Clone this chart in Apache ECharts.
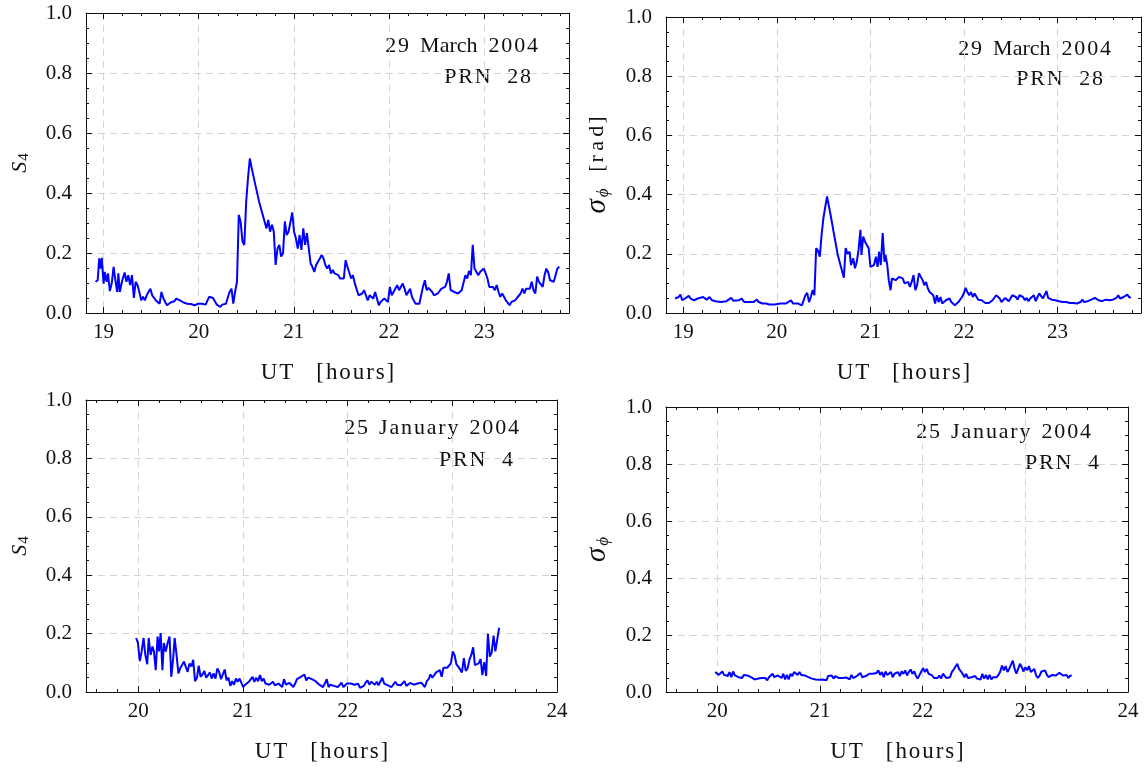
<!DOCTYPE html>
<html>
<head>
<meta charset="utf-8">
<script src="https://cdn.jsdelivr.net/npm/echarts@6/dist/echarts.min.js"></script>
<style>
  html, body {margin: 0; padding: 0; background: #fff;}
  #chart {width: 1145px; height: 769px;}
</style>
</head>
<body>
<div id="chart"></div>
<script>
// [UT hours, value]
// 29 March 2004, PRN 28 : S4
const marS4 = [[18.915,0.104],[18.938,0.109],[18.954,0.182],[18.969,0.148],[18.981,0.184],[18.992,0.132],[19.000,0.098],[19.012,0.137],[19.031,0.104],[19.046,0.132],[19.066,0.073],[19.085,0.098],[19.105,0.154],[19.124,0.109],[19.143,0.070],[19.155,0.132],[19.170,0.070],[19.194,0.106],[19.221,0.135],[19.240,0.104],[19.259,0.126],[19.279,0.093],[19.298,0.126],[19.318,0.050],[19.337,0.104],[19.356,0.093],[19.376,0.070],[19.395,0.042],[19.414,0.054],[19.434,0.042],[19.453,0.059],[19.472,0.070],[19.492,0.081],[19.511,0.059],[19.530,0.054],[19.550,0.042],[19.569,0.037],[19.589,0.031],[19.608,0.070],[19.627,0.050],[19.647,0.037],[19.666,0.026],[19.685,0.031],[19.705,0.035],[19.724,0.033],[19.743,0.039],[19.763,0.048],[19.782,0.054],[19.802,0.042],[19.821,0.037],[19.840,0.035],[19.860,0.031],[19.879,0.031],[19.898,0.026],[19.918,0.030],[19.937,0.028],[19.956,0.026],[19.976,0.023],[19.995,0.031],[20.015,0.028],[20.034,0.031],[20.053,0.030],[20.073,0.028],[20.092,0.042],[20.111,0.054],[20.131,0.059],[20.150,0.050],[20.169,0.039],[20.189,0.028],[20.208,0.023],[20.228,0.020],[20.247,0.028],[20.266,0.023],[20.286,0.031],[20.305,0.031],[20.324,0.070],[20.344,0.081],[20.363,0.031],[20.382,0.070],[20.402,0.104],[20.421,0.327],[20.440,0.305],[20.460,0.238],[20.479,0.227],[20.499,0.372],[20.518,0.450],[20.537,0.515],[20.557,0.483],[20.595,0.427],[20.634,0.372],[20.673,0.327],[20.712,0.282],[20.731,0.310],[20.750,0.271],[20.770,0.294],[20.789,0.271],[20.808,0.160],[20.828,0.215],[20.847,0.227],[20.866,0.188],[20.886,0.199],[20.905,0.305],[20.925,0.260],[20.944,0.271],[20.963,0.271],[20.983,0.335],[21.002,0.271],[21.021,0.249],[21.041,0.215],[21.060,0.260],[21.079,0.210],[21.099,0.282],[21.118,0.227],[21.137,0.266],[21.157,0.266],[21.176,0.165],[21.195,0.154],[21.215,0.137],[21.234,0.160],[21.254,0.160],[21.273,0.182],[21.292,0.193],[21.312,0.182],[21.331,0.160],[21.350,0.148],[21.370,0.160],[21.389,0.132],[21.409,0.143],[21.428,0.132],[21.447,0.137],[21.467,0.126],[21.486,0.115],[21.505,0.109],[21.525,0.115],[21.544,0.176],[21.563,0.154],[21.583,0.160],[21.602,0.115],[21.621,0.126],[21.641,0.098],[21.660,0.093],[21.680,0.059],[21.699,0.059],[21.718,0.065],[21.738,0.076],[21.757,0.070],[21.776,0.042],[21.796,0.059],[21.815,0.065],[21.834,0.048],[21.854,0.070],[21.873,0.076],[21.893,0.026],[21.912,0.037],[21.931,0.042],[21.951,0.048],[21.970,0.054],[21.989,0.037],[22.009,0.087],[22.028,0.059],[22.048,0.070],[22.067,0.065],[22.086,0.093],[22.106,0.076],[22.125,0.070],[22.144,0.098],[22.164,0.081],[22.183,0.059],[22.202,0.054],[22.222,0.081],[22.241,0.054],[22.260,0.042],[22.280,0.031],[22.299,0.028],[22.319,0.031],[22.338,0.059],[22.357,0.087],[22.377,0.109],[22.396,0.076],[22.415,0.084],[22.435,0.087],[22.454,0.070],[22.473,0.059],[22.493,0.054],[22.512,0.065],[22.531,0.070],[22.551,0.081],[22.570,0.081],[22.590,0.087],[22.609,0.104],[22.628,0.132],[22.648,0.076],[22.667,0.081],[22.686,0.070],[22.706,0.070],[22.725,0.065],[22.744,0.065],[22.764,0.076],[22.783,0.070],[22.803,0.126],[22.822,0.115],[22.841,0.140],[22.861,0.126],[22.880,0.227],[22.899,0.148],[22.919,0.143],[22.938,0.126],[22.957,0.137],[22.977,0.140],[22.996,0.148],[23.016,0.132],[23.035,0.115],[23.054,0.087],[23.074,0.081],[23.093,0.087],[23.112,0.076],[23.132,0.093],[23.151,0.070],[23.170,0.054],[23.190,0.065],[23.209,0.054],[23.228,0.042],[23.248,0.042],[23.267,0.026],[23.287,0.037],[23.306,0.042],[23.325,0.042],[23.345,0.050],[23.364,0.054],[23.383,0.065],[23.403,0.081],[23.422,0.065],[23.441,0.081],[23.461,0.081],[23.480,0.081],[23.500,0.104],[23.519,0.076],[23.538,0.065],[23.557,0.121],[23.577,0.104],[23.596,0.098],[23.616,0.087],[23.635,0.126],[23.654,0.148],[23.674,0.135],[23.693,0.109],[23.712,0.104],[23.732,0.104],[23.751,0.104],[23.770,0.148],[23.790,0.154]]

// 29 March 2004, PRN 28 : sigma phi [rad]
const marSigma = [[18.912,0.049],[18.931,0.043],[18.950,0.054],[18.969,0.062],[18.988,0.043],[19.019,0.049],[19.058,0.058],[19.077,0.049],[19.115,0.043],[19.154,0.049],[19.211,0.054],[19.250,0.045],[19.280,0.054],[19.307,0.043],[19.345,0.040],[19.403,0.037],[19.461,0.040],[19.511,0.051],[19.537,0.041],[19.595,0.043],[19.622,0.049],[19.653,0.037],[19.710,0.037],[19.749,0.037],[19.787,0.045],[19.806,0.037],[19.845,0.032],[19.883,0.032],[19.921,0.029],[19.979,0.029],[20.036,0.032],[20.094,0.032],[20.152,0.043],[20.171,0.032],[20.228,0.032],[20.267,0.026],[20.286,0.032],[20.305,0.060],[20.324,0.068],[20.344,0.037],[20.363,0.054],[20.382,0.077],[20.401,0.060],[20.420,0.219],[20.440,0.210],[20.459,0.190],[20.478,0.264],[20.497,0.320],[20.536,0.394],[20.574,0.332],[20.612,0.264],[20.651,0.196],[20.689,0.151],[20.716,0.119],[20.735,0.219],[20.754,0.200],[20.777,0.207],[20.793,0.162],[20.816,0.185],[20.835,0.151],[20.854,0.173],[20.873,0.213],[20.893,0.281],[20.904,0.196],[20.923,0.258],[20.942,0.241],[20.962,0.247],[20.981,0.219],[21.000,0.156],[21.019,0.151],[21.038,0.162],[21.058,0.190],[21.077,0.156],[21.092,0.207],[21.111,0.162],[21.131,0.270],[21.150,0.173],[21.161,0.196],[21.180,0.162],[21.196,0.111],[21.215,0.077],[21.230,0.117],[21.250,0.111],[21.269,0.111],[21.288,0.105],[21.307,0.122],[21.326,0.126],[21.345,0.117],[21.365,0.100],[21.384,0.096],[21.403,0.105],[21.422,0.088],[21.441,0.105],[21.461,0.128],[21.480,0.077],[21.499,0.094],[21.518,0.134],[21.537,0.139],[21.557,0.111],[21.576,0.094],[21.595,0.105],[21.614,0.083],[21.633,0.071],[21.653,0.066],[21.672,0.060],[21.691,0.032],[21.710,0.060],[21.729,0.037],[21.749,0.054],[21.768,0.032],[21.787,0.026],[21.806,0.043],[21.825,0.045],[21.845,0.049],[21.864,0.037],[21.883,0.032],[21.902,0.026],[21.921,0.032],[21.940,0.037],[21.960,0.043],[21.979,0.054],[21.998,0.066],[22.017,0.085],[22.036,0.071],[22.056,0.060],[22.075,0.071],[22.094,0.054],[22.113,0.066],[22.132,0.071],[22.152,0.045],[22.171,0.040],[22.190,0.043],[22.209,0.037],[22.228,0.034],[22.248,0.037],[22.267,0.034],[22.286,0.037],[22.305,0.043],[22.324,0.049],[22.344,0.060],[22.363,0.066],[22.382,0.049],[22.401,0.037],[22.420,0.043],[22.440,0.051],[22.459,0.049],[22.478,0.040],[22.497,0.049],[22.516,0.060],[22.536,0.066],[22.555,0.054],[22.574,0.045],[22.593,0.060],[22.612,0.062],[22.631,0.054],[22.651,0.043],[22.670,0.051],[22.689,0.040],[22.708,0.049],[22.727,0.051],[22.747,0.060],[22.766,0.040],[22.785,0.045],[22.804,0.066],[22.823,0.058],[22.843,0.049],[22.862,0.054],[22.881,0.074],[22.900,0.051],[22.919,0.049],[22.939,0.045],[22.958,0.045],[22.977,0.043],[22.996,0.040],[23.015,0.040],[23.054,0.037],[23.092,0.037],[23.111,0.043],[23.131,0.034],[23.169,0.034],[23.207,0.032],[23.246,0.037],[23.265,0.045],[23.284,0.037],[23.322,0.040],[23.361,0.045],[23.399,0.051],[23.418,0.049],[23.438,0.043],[23.476,0.040],[23.514,0.045],[23.534,0.049],[23.553,0.043],[23.591,0.045],[23.630,0.051],[23.649,0.060],[23.668,0.049],[23.707,0.054],[23.726,0.060],[23.745,0.062],[23.764,0.054],[23.783,0.051]]

// 25 January 2004, PRN 4 : S4
const janS4 = [[19.979,0.185],[19.996,0.168],[20.014,0.106],[20.032,0.139],[20.050,0.185],[20.067,0.127],[20.085,0.095],[20.099,0.185],[20.117,0.127],[20.135,0.156],[20.149,0.139],[20.166,0.075],[20.184,0.190],[20.198,0.139],[20.213,0.202],[20.230,0.075],[20.244,0.168],[20.262,0.139],[20.280,0.168],[20.298,0.190],[20.315,0.052],[20.333,0.116],[20.347,0.185],[20.365,0.127],[20.383,0.064],[20.400,0.081],[20.418,0.087],[20.436,0.104],[20.453,0.106],[20.471,0.069],[20.489,0.098],[20.507,0.087],[20.524,0.110],[20.542,0.037],[20.560,0.049],[20.577,0.090],[20.595,0.052],[20.613,0.060],[20.631,0.072],[20.648,0.049],[20.666,0.058],[20.684,0.067],[20.701,0.046],[20.719,0.064],[20.737,0.046],[20.755,0.081],[20.772,0.069],[20.790,0.044],[20.808,0.040],[20.825,0.077],[20.843,0.040],[20.861,0.049],[20.879,0.021],[20.896,0.037],[20.914,0.025],[20.932,0.046],[20.949,0.035],[20.967,0.046],[20.985,0.049],[21.002,0.017],[21.020,0.025],[21.038,0.029],[21.056,0.035],[21.073,0.040],[21.091,0.052],[21.109,0.035],[21.126,0.049],[21.144,0.037],[21.162,0.058],[21.180,0.037],[21.197,0.046],[21.215,0.029],[21.233,0.032],[21.250,0.025],[21.268,0.025],[21.286,0.035],[21.304,0.023],[21.321,0.025],[21.339,0.029],[21.357,0.032],[21.374,0.017],[21.392,0.044],[21.410,0.025],[21.428,0.021],[21.445,0.031],[21.463,0.025],[21.481,0.017],[21.498,0.029],[21.516,0.044],[21.534,0.049],[21.552,0.052],[21.569,0.046],[21.587,0.060],[21.605,0.040],[21.622,0.049],[21.640,0.044],[21.658,0.044],[21.676,0.040],[21.693,0.037],[21.711,0.031],[21.729,0.025],[21.746,0.029],[21.764,0.017],[21.782,0.029],[21.800,0.044],[21.817,0.017],[21.835,0.025],[21.853,0.023],[21.870,0.021],[21.888,0.025],[21.906,0.017],[21.923,0.014],[21.941,0.032],[21.959,0.017],[21.977,0.023],[21.994,0.029],[22.012,0.025],[22.030,0.029],[22.047,0.028],[22.065,0.025],[22.083,0.028],[22.101,0.028],[22.118,0.014],[22.136,0.017],[22.154,0.021],[22.171,0.032],[22.189,0.040],[22.207,0.025],[22.225,0.035],[22.242,0.029],[22.260,0.025],[22.278,0.035],[22.295,0.023],[22.313,0.025],[22.331,0.049],[22.349,0.029],[22.366,0.025],[22.384,0.023],[22.402,0.025],[22.419,0.017],[22.437,0.023],[22.455,0.035],[22.473,0.025],[22.490,0.029],[22.508,0.023],[22.526,0.023],[22.543,0.037],[22.561,0.021],[22.579,0.025],[22.597,0.031],[22.614,0.029],[22.632,0.025],[22.650,0.031],[22.667,0.029],[22.685,0.029],[22.703,0.032],[22.721,0.029],[22.738,0.017],[22.756,0.037],[22.774,0.044],[22.791,0.060],[22.809,0.049],[22.827,0.058],[22.845,0.067],[22.862,0.064],[22.880,0.075],[22.898,0.052],[22.915,0.083],[22.933,0.081],[22.951,0.083],[22.969,0.087],[22.986,0.098],[23.004,0.139],[23.022,0.125],[23.039,0.095],[23.057,0.087],[23.075,0.081],[23.092,0.067],[23.110,0.116],[23.128,0.072],[23.146,0.081],[23.163,0.110],[23.181,0.127],[23.199,0.153],[23.216,0.092],[23.234,0.095],[23.252,0.098],[23.270,0.113],[23.287,0.058],[23.305,0.102],[23.323,0.055],[23.340,0.199],[23.358,0.121],[23.376,0.136],[23.394,0.193],[23.411,0.139],[23.429,0.139],[23.447,0.220]]

// 25 January 2004, PRN 4 : sigma phi
const janSigma = [[19.979,0.070],[19.997,0.067],[20.014,0.060],[20.031,0.056],[20.049,0.072],[20.066,0.060],[20.084,0.064],[20.101,0.056],[20.119,0.070],[20.136,0.052],[20.154,0.072],[20.171,0.058],[20.189,0.060],[20.206,0.052],[20.224,0.058],[20.241,0.049],[20.258,0.060],[20.276,0.056],[20.293,0.058],[20.311,0.060],[20.328,0.052],[20.346,0.047],[20.363,0.044],[20.381,0.049],[20.398,0.047],[20.416,0.051],[20.433,0.049],[20.451,0.044],[20.468,0.049],[20.486,0.041],[20.503,0.052],[20.520,0.058],[20.538,0.064],[20.555,0.052],[20.573,0.049],[20.590,0.058],[20.608,0.052],[20.625,0.049],[20.643,0.064],[20.660,0.044],[20.678,0.060],[20.695,0.044],[20.713,0.064],[20.730,0.056],[20.747,0.070],[20.765,0.064],[20.782,0.060],[20.800,0.070],[20.817,0.060],[20.835,0.056],[20.852,0.058],[20.870,0.052],[20.887,0.052],[20.905,0.049],[20.922,0.047],[20.940,0.049],[20.957,0.044],[20.975,0.044],[20.992,0.043],[21.009,0.041],[21.027,0.044],[21.044,0.049],[21.062,0.041],[21.079,0.056],[21.097,0.049],[21.114,0.058],[21.132,0.047],[21.149,0.056],[21.167,0.052],[21.184,0.049],[21.202,0.056],[21.219,0.049],[21.236,0.056],[21.254,0.051],[21.271,0.052],[21.289,0.044],[21.306,0.060],[21.324,0.049],[21.341,0.049],[21.359,0.056],[21.376,0.049],[21.394,0.067],[21.411,0.052],[21.429,0.049],[21.446,0.056],[21.463,0.056],[21.481,0.064],[21.498,0.058],[21.516,0.064],[21.533,0.070],[21.551,0.067],[21.568,0.076],[21.586,0.060],[21.603,0.070],[21.621,0.052],[21.638,0.072],[21.656,0.060],[21.673,0.056],[21.691,0.070],[21.708,0.052],[21.725,0.064],[21.743,0.060],[21.760,0.070],[21.778,0.056],[21.795,0.072],[21.813,0.064],[21.830,0.076],[21.848,0.058],[21.865,0.070],[21.883,0.079],[21.900,0.064],[21.918,0.072],[21.935,0.056],[21.952,0.047],[21.970,0.060],[21.987,0.072],[22.005,0.084],[22.022,0.070],[22.040,0.081],[22.057,0.064],[22.075,0.070],[22.092,0.058],[22.110,0.049],[22.127,0.047],[22.145,0.049],[22.162,0.058],[22.180,0.047],[22.197,0.064],[22.214,0.060],[22.232,0.049],[22.249,0.056],[22.267,0.052],[22.284,0.070],[22.302,0.079],[22.319,0.072],[22.337,0.099],[22.354,0.081],[22.372,0.079],[22.389,0.064],[22.407,0.052],[22.424,0.064],[22.441,0.049],[22.459,0.047],[22.476,0.052],[22.494,0.049],[22.511,0.056],[22.529,0.047],[22.546,0.047],[22.564,0.044],[22.581,0.064],[22.599,0.047],[22.616,0.060],[22.634,0.044],[22.651,0.060],[22.669,0.044],[22.686,0.052],[22.703,0.047],[22.721,0.052],[22.738,0.060],[22.756,0.072],[22.773,0.093],[22.791,0.076],[22.808,0.091],[22.826,0.070],[22.843,0.081],[22.861,0.076],[22.878,0.110],[22.896,0.081],[22.913,0.064],[22.930,0.081],[22.948,0.099],[22.965,0.087],[22.983,0.072],[23.000,0.087],[23.018,0.076],[23.035,0.091],[23.053,0.070],[23.070,0.072],[23.088,0.081],[23.105,0.058],[23.123,0.049],[23.140,0.058],[23.157,0.072],[23.175,0.079],[23.192,0.076],[23.210,0.060],[23.227,0.052],[23.245,0.058],[23.262,0.060],[23.280,0.056],[23.297,0.058],[23.315,0.060],[23.332,0.067],[23.350,0.064],[23.367,0.058],[23.385,0.052],[23.402,0.060],[23.420,0.049],[23.437,0.058],[23.451,0.056]]

const marHours = [19, 20, 21, 22, 23]
const janHours = [20, 21, 22, 23, 24]

const FONT = '"Liberation Serif", "DejaVu Serif", serif'
const INK = '#111'
const BLUE = '#0000ff'
const frameLine = {color: INK, width: 1}
const gridDash = {color: '#d4d4d4', width: 1, type: [7, 5]}
// the original sets its words loosely, hair/thin spaces mimic that
const HS = '\u200A'
const TS = '\u2009'
const loose = s => s.split('').join(HS)

function steps(a, b, d) {
  const out = []
  for (let v = a; v <= b + 1e-9; v += d) out.push(+v.toFixed(3))
  return out
}

const xName = `${loose('UT')}    [${HS}${loose('hours')}${HS}]`
const marNotes = [`${loose('29')}  March  ${loose('2004')}`, `${loose('PRN')}   ${loose('28')}`]
const janNotes = [`${loose('25')}  ${loose('January')}  ${loose('2004')}`, `${loose('PRN')}   4`]
const nameRich = {
  s: {fontFamily: FONT, fontStyle: 'italic', fontSize: 22, color: INK},
  g: {fontFamily: FONT, fontStyle: 'italic', fontSize: 29, color: INK},
  sub: {fontFamily: FONT, fontSize: 15, color: INK, verticalAlign: 'bottom', padding: [9, 0, 0, 1]},
  phi: {fontFamily: FONT, fontStyle: 'italic', fontSize: 17, color: INK, verticalAlign: 'bottom', padding: [10, 0, 0, 2]},
  t: {fontFamily: FONT, fontSize: 22, color: INK},
}

const panels = [
  {grid: {left: 86, top: 13, width: 483, height: 300}, min: 18.815, max: 23.892,
    majors: marHours, minors: steps(19, 23.8, 0.2), data: marS4,
    yName: '{s|S}{sub|4}', notes: marNotes, noteX: [538, 531], noteY: [46, 77]},
  {grid: {left: 666, top: 17, width: 475, height: 296}, min: 18.815, max: 23.892,
    majors: marHours, minors: steps(19, 23.8, 0.2), data: marSigma,
    yName: `{g|σ}{phi|ϕ}     {t|[${HS}r${TS}a${TS}d${HS}]}`, notes: marNotes, noteX: [1111, 1103], noteY: [49, 79]},
  {grid: {left: 86, top: 400, width: 471, height: 292}, min: 19.5, max: 24,
    majors: janHours, minors: steps(19.6, 24, 0.2), data: janS4,
    yName: '{s|S}{sub|4}', notes: janNotes, noteX: [519, 513], noteY: [428, 460]},
  {grid: {left: 666, top: 407, width: 462, height: 285}, min: 19.5, max: 24,
    majors: janHours, minors: steps(19.6, 24, 0.2), data: janSigma,
    yName: '{g|σ}{phi|ϕ}', notes: janNotes, noteX: [1091, 1099], noteY: [432, 463]},
]

const grids = [], xAxes = [], yAxes = [], series = [], graphic = []

panels.forEach((p, gi) => {
  grids.push({...p.grid, outerBoundsMode: 'none'})

  const xBase = {gridIndex: gi, type: 'value', min: p.min, max: p.max,
    axisLine: {show: true, onZero: false, lineStyle: frameLine},
    axisLabel: {show: false}, splitLine: {show: false}}
  const mainX = xAxes.length
  xAxes.push({...xBase, position: 'bottom',
    name: xName, nameLocation: 'middle', nameGap: 48,
    nameTextStyle: {fontFamily: FONT, fontSize: 23, color: INK},
    axisTick: {show: true, inside: true, length: 6, customValues: p.majors, lineStyle: frameLine},
    axisLabel: {show: true, customValues: p.majors, margin: 9, fontFamily: FONT, fontSize: 21, color: INK},
    splitLine: {show: true, lineStyle: gridDash}})
  xAxes.push({...xBase, position: 'bottom', axisLine: {show: false, onZero: false},
    axisTick: {show: true, inside: true, length: 3, customValues: p.minors, lineStyle: frameLine}})
  xAxes.push({...xBase, position: 'top',
    axisTick: {show: true, inside: true, length: 6, customValues: p.majors, lineStyle: frameLine}})
  xAxes.push({...xBase, position: 'top', axisLine: {show: false, onZero: false},
    axisTick: {show: true, inside: true, length: 3, customValues: p.minors, lineStyle: frameLine}})

  const yBase = {gridIndex: gi, type: 'value', min: 0, max: 1, interval: 0.2,
    axisLine: {show: true, onZero: false, lineStyle: frameLine},
    axisTick: {show: true, inside: true, length: 6, lineStyle: frameLine},
    minorTick: {show: true, splitNumber: 4, length: 3, lineStyle: frameLine}}
  const mainY = yAxes.length
  yAxes.push({...yBase, position: 'left',
    name: p.yName, nameLocation: 'middle', nameGap: 54, nameRotate: 90,
    nameTextStyle: {rich: nameRich},
    axisLabel: {formatter: v => v.toFixed(1), margin: 14, fontFamily: FONT, fontSize: 21, color: INK},
    splitLine: {show: true, lineStyle: gridDash}})
  yAxes.push({...yBase, position: 'right', axisLabel: {show: false}, splitLine: {show: false}})

  series.push({type: 'line', xAxisIndex: mainX, yAxisIndex: mainY, data: p.data,
    showSymbol: false, symbol: 'none', lineStyle: {color: BLUE, width: 2}, z: 3})

  p.notes.forEach((txt, k) => {
    graphic.push({type: 'text', x: p.noteX[k], y: p.noteY[k], silent: true,
      style: {text: txt, font: `22px ${FONT}`, fill: INK, align: 'right', verticalAlign: 'middle'}})
  })
})

const chart = echarts.init(document.getElementById('chart'))
chart.setOption({
  animation: false,
  backgroundColor: '#fff',
  grid: grids,
  xAxis: xAxes,
  yAxis: yAxes,
  series,
  graphic,
})
window.addEventListener('resize', () => chart.resize())
</script>
</body>
</html>
